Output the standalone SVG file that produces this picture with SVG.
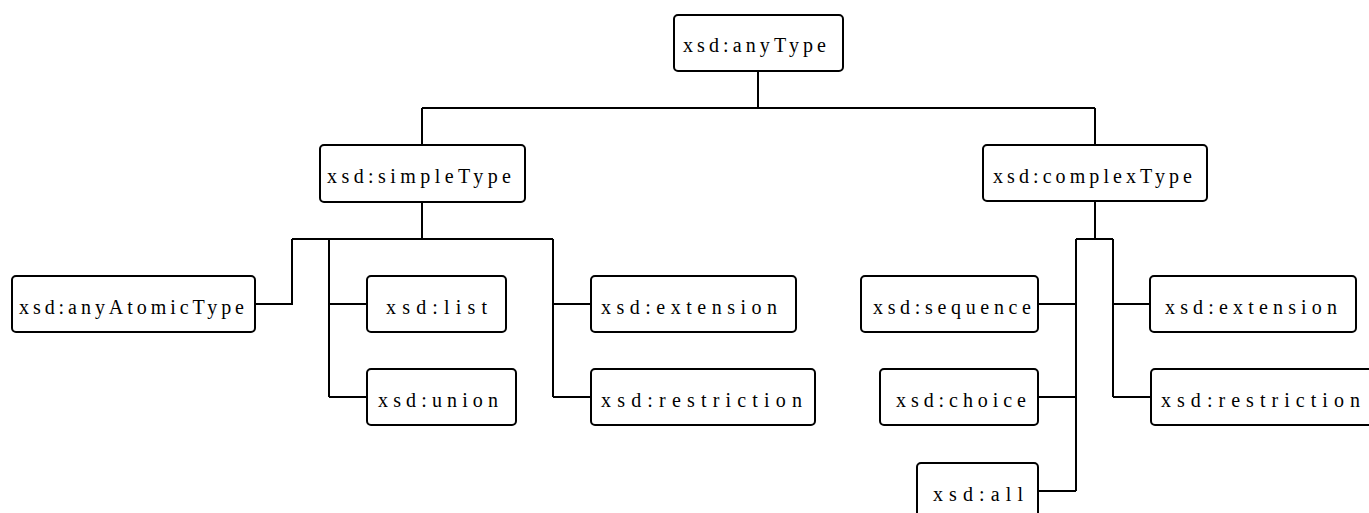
<svg xmlns="http://www.w3.org/2000/svg" width="1369" height="513" viewBox="0 0 1369 513">
<style>
.box{fill:#fff;stroke:#000;stroke-width:2}
.lbl{font-family:"Liberation Serif","Times New Roman",serif;font-size:20px;fill:#000}
.con{fill:none;stroke:#000;stroke-width:2}
</style>
<rect width="1369" height="513" fill="#fff"/>
<g id="connectors">
<path class="con" d="M758 71V108M422 108H1095M422 108V145M1095 108V145"/>
<path class="con" d="M422 202V239M292 239H553M292 239V304H255M329 239V397M329 304H367M329 397H367M553 239V397M553 304H591M553 397H591"/>
<path class="con" d="M1095 201V239M1076 239H1113M1076 239V491M1076 304H1038M1076 397H1038M1076 491H1038M1113 239V397M1113 304H1150M1113 397H1151"/>
</g>
<g id="anyType"><rect class="box" x="674" y="15" width="169" height="56" rx="4"/><text class="lbl" x="683" y="52" textLength="143" lengthAdjust="spacing">xsd:anyType</text></g>
<g id="simpleType"><rect class="box" x="320" y="145" width="205" height="57" rx="4"/><text class="lbl" x="327" y="183" textLength="184" lengthAdjust="spacing">xsd:simpleType</text></g>
<g id="complexType"><rect class="box" x="983" y="145" width="224" height="56" rx="4"/><text class="lbl" x="993" y="183" textLength="199" lengthAdjust="spacing">xsd:complexType</text></g>
<g id="anyAtomicType"><rect class="box" x="12" y="276" width="243" height="56" rx="4"/><text class="lbl" x="19" y="314" textLength="225" lengthAdjust="spacing">xsd:anyAtomicType</text></g>
<g id="list"><rect class="box" x="367" y="276" width="139" height="56" rx="4"/><text class="lbl" x="386" y="314" textLength="101" lengthAdjust="spacing">xsd:list</text></g>
<g id="union"><rect class="box" x="367" y="369" width="149" height="56" rx="4"/><text class="lbl" x="378" y="407" textLength="120" lengthAdjust="spacing">xsd:union</text></g>
<g id="simpleExtension"><rect class="box" x="591" y="276" width="205" height="56" rx="4"/><text class="lbl" x="601" y="314" textLength="176" lengthAdjust="spacing">xsd:extension</text></g>
<g id="simpleRestriction"><rect class="box" x="591" y="369" width="224" height="56" rx="4"/><text class="lbl" x="601" y="407" textLength="201" lengthAdjust="spacing">xsd:restriction</text></g>
<g id="sequence"><rect class="box" x="861" y="276" width="177" height="56" rx="4"/><text class="lbl" x="873" y="314" textLength="158" lengthAdjust="spacing">xsd:sequence</text></g>
<g id="choice"><rect class="box" x="880" y="369" width="158" height="56" rx="4"/><text class="lbl" x="896" y="407" textLength="130" lengthAdjust="spacing">xsd:choice</text></g>
<g id="all"><rect class="box" x="917" y="463" width="121" height="60" rx="4"/><text class="lbl" x="933" y="501" textLength="90" lengthAdjust="spacing">xsd:all</text></g>
<g id="complexExtension"><rect class="box" x="1150" y="276" width="206" height="56" rx="4"/><text class="lbl" x="1165" y="314" textLength="172" lengthAdjust="spacing">xsd:extension</text></g>
<g id="complexRestriction"><rect class="box" x="1151" y="369" width="224" height="56" rx="4"/><text class="lbl" x="1161" y="407" textLength="199" lengthAdjust="spacing">xsd:restriction</text></g>
</svg>
